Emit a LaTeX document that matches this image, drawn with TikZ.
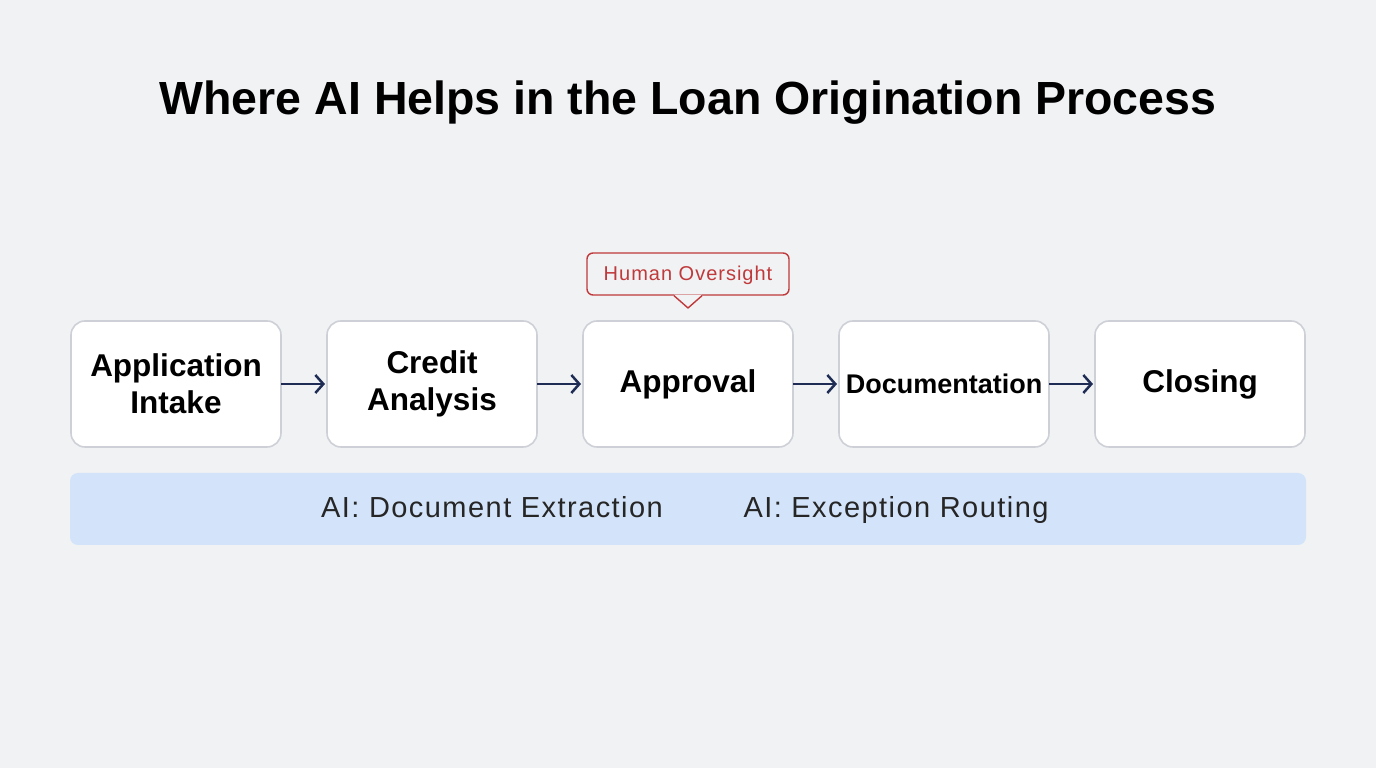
\documentclass[tikz,border=0pt]{standalone}
\usepackage{fontspec}
\setmainfont{Liberation Sans}
\usetikzlibrary{arrows.meta, positioning, calc}
\definecolor{fondo}{HTML}{F0F2F4}
\definecolor{borde}{HTML}{CDD1D7}
\definecolor{flecha}{HTML}{1F2D55}
\definecolor{banda}{HTML}{D3E4FA}
\definecolor{rojo}{HTML}{C0393B}
\tikzstyle{etapa} = [draw=borde, fill=white, line width=1.6pt, rectangle, rounded corners=14pt, outer sep=0pt, minimum width=210pt, minimum height=126pt, align=center, font=\fontsize{31.5}{37}\selectfont\bfseries]
\tikzstyle{paso} = [-{Straight Barb[length=8pt, width=18pt, line width=2.5pt]}, draw=flecha, line width=2.5pt, shorten >=2pt]
\tikzstyle{etiqueta} = [anchor=base, font=\fontsize{29}{32}\selectfont\addfontfeature{LetterSpace=5}, text=black!85]

\begin{document}
\begin{tikzpicture}[x=1pt, y=1pt, node distance=46pt]
	\fill[fondo] (0,0) rectangle (1376,768);
	\useasboundingbox (0,0) rectangle (1376,768);
	\node[anchor=base, font=\fontsize{46.5}{50}\selectfont\bfseries] (titulo) at (688,653) {Where AI Helps in the Loan Origination Process};
	\node[etapa] (intake) at (176,384) {Application\\Intake};
	\node[etapa, right=of intake] (credit) {Credit\\Analysis};
	\node[etapa, right=of credit] (approval) {Approval};
	\node[etapa, right=of approval, font=\fontsize{27}{30}\selectfont\bfseries] (docs) {Documentation};
	\node[etapa, right=of docs] (closing) {Closing};
	\draw[paso] (intake) -- (credit);
	\draw[paso] (credit) -- (approval);
	\draw[paso] (approval) -- (docs);
	\draw[paso] (docs) -- (closing);
	% banda de IA
	\node[fill=banda, rounded corners=8pt, minimum width=1236pt, minimum height=72pt] (banda) at (688,259) {};
	\node[etiqueta] (extraccion) at (492,250) {AI: Document Extraction};
	\node[etiqueta] (excepcion) at (896,250) {AI: Exception Routing};
	% supervision humana
	\node[draw=rojo, fill=fondo, line width=1.4pt, rounded corners=6pt, minimum width=202pt, minimum height=42pt] (humano) at (688,494) {};
	\node[anchor=base, text=rojo, font=\fontsize{20}{22}\selectfont\addfontfeature{LetterSpace=5}] (texto) at (688,487) {Human Oversight};
	\coordinate (punta) at (688,460);
	\fill[fondo] ($(humano.south)+(-14,1)$) -- (punta) -- ($(humano.south)+(14,1)$) -- cycle;
	\draw[rojo, line width=1.4pt, line join=round] ($(humano.south)+(-14,0)$) -- (punta) -- ($(humano.south)+(14,0)$);
\end{tikzpicture}
\end{document}
